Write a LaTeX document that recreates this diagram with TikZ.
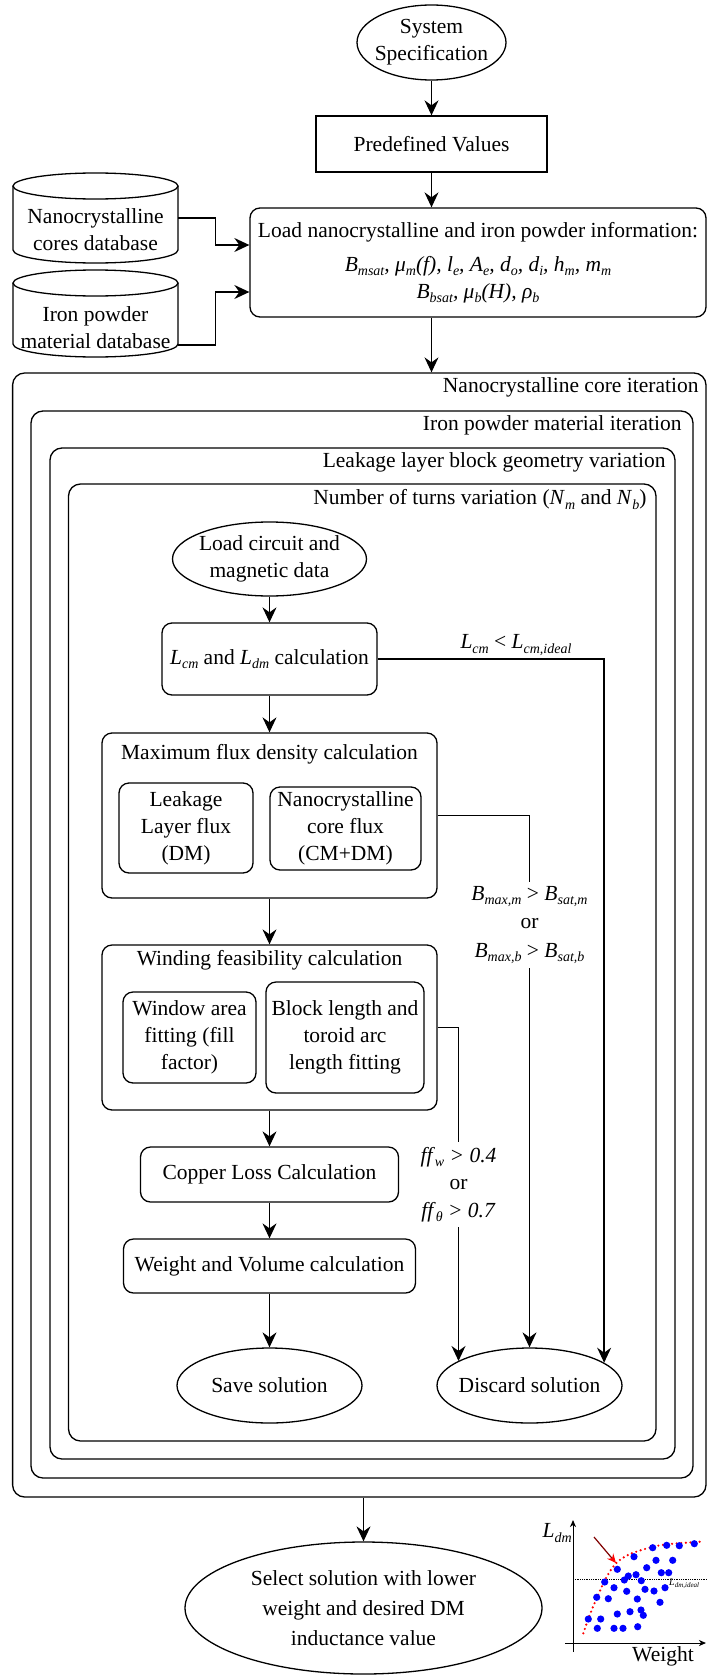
\documentclass[tikz,border=0pt]{standalone}
\usepackage{fontspec}
\setmainfont{Liberation Serif}
\usetikzlibrary{shapes.geometric,arrows.meta,calc}
\definecolor{darkred}{RGB}{128,0,0}
\newcommand\subit[1]{\raisebox{-0.22em}{\fontsize{14}{14}\selectfont\itshape #1}}
\newcommand\tinysub[1]{\raisebox{-0.2em}{\fontsize{7}{7}\selectfont\itshape #1}}
\newcommand\fs{\fontsize{21.5}{27}\selectfont}
\begin{document}
\begin{tikzpicture}[x=1pt,y=-1pt,font=\fs,
  base/.style={draw, line width=1.3pt, align=center, inner sep=0pt},
  rbox/.style={base, rectangle, rounded corners=10pt},
  pbox/.style={base, rectangle},
  ell/.style={base, ellipse},
  frame/.style={draw, line width=1.3pt, rectangle, rounded corners=12pt, inner sep=0pt},
  lbl/.style={inner sep=0pt, align=center},
  conn/.style={line width=1.3pt},
  arr/.style={line width=1.3pt, -{Stealth[length=15pt,width=14pt,inset=5pt]}},
  axis/.style={line width=1pt, -{Stealth[length=7pt,width=6pt,inset=2pt]}},
  cyl/.style={line width=1.3pt}
]
\useasboundingbox (0,0) rectangle (707,1675);

% ---- top part
\node[ell, minimum width=149pt, minimum height=75pt] (sys) at (431.5,42.5) {};
\node[lbl] (syst) at (sys) {System\\Specification};
\node[pbox, minimum width=231pt, minimum height=56pt] (pre) at (431.5,144) {Predefined Values};
\node[rbox, minimum width=456pt, minimum height=109pt] (load) at (478,262.5)
  {Load nanocrystalline and iron powder information:\\[7pt]
   \itshape B\subit{msat}, μ\subit{m}(f), l\subit{e}, A\subit{e}, d\subit{o}, d\subit{i}, h\subit{m}, m\subit{m}\\
   \itshape B\subit{bsat}, μ\subit{b}(H), ρ\subit{b}};

% ---- databases (cylinders)
\node[lbl, minimum width=165pt, minimum height=90pt] (db1) at (95.5,218) {};
\draw[cyl] (95.5,186) ellipse[x radius=82.5pt, y radius=13pt];
\draw[cyl] (13,186) -- (13,250) arc[start angle=180, end angle=360, x radius=82.5pt, y radius=13pt] -- (178,186);
\node[lbl] (db1t) at (95.5,230) {Nanocrystalline\\cores database};

\node[lbl, minimum width=165pt, minimum height=87pt] (db2) at (95.5,313.5) {};
\draw[cyl] (95.5,283) ellipse[x radius=82.5pt, y radius=13pt];
\draw[cyl] (13,283) -- (13,344) arc[start angle=180, end angle=360, x radius=82.5pt, y radius=13pt] -- (178,283);
\node[lbl] (db2t) at (95.5,328) {Iron powder\\material database};

% ---- nested iteration frames
\node[frame, minimum width=693.4pt, minimum height=1124pt] (b1) at (359.3,935) {};
\node[frame, minimum width=662pt, minimum height=1067pt] (b2) at (362,944.5) {};
\node[frame, minimum width=625pt, minimum height=1011pt] (b3) at (362.5,953.5) {};
\node[frame, minimum width=587.5pt, minimum height=957pt] (b4) at (362.25,962.5) {};
\node[lbl, anchor=east] (b1l) at ([xshift=-8pt,yshift=-15pt]b1.north east) {Nanocrystalline core iteration};
\node[lbl, anchor=east] (b2l) at ([xshift=-12pt,yshift=-15pt]b2.north east) {Iron powder material iteration};
\node[lbl, anchor=east] (b3l) at ([xshift=-10pt,yshift=-15pt]b3.north east) {Leakage layer block geometry variation};
\node[lbl, anchor=east] (b4l) at ([xshift=-10pt,yshift=-16pt]b4.north east) {Number of turns variation (\textit{N}\subit{m} and \textit{N}\subit{b})};

% ---- inner flow
\node[ell, minimum width=194pt, minimum height=74pt] (lc) at (269.5,559) {};
\node[lbl] (lct) at (lc) {Load circuit and\\magnetic data};
\node[rbox, minimum width=215pt, minimum height=72pt] (lcm) at (269.5,659) {\textit{L}\subit{cm} and \textit{L}\subit{dm} calculation};

\node[rbox, minimum width=335pt, minimum height=165pt] (mf) at (269.5,815.5) {};
\node[lbl] (mft) at (269.5,754) {Maximum flux density calculation};
\node[rbox, minimum width=134pt, minimum height=90pt] (ll) at (186,828) {Leakage\\Layer flux\\(DM)};
\node[rbox, minimum width=151pt, minimum height=83pt] (nc) at (345.5,828.5) {Nanocrystalline\\core flux\\(CM+DM)};

\node[rbox, minimum width=335pt, minimum height=165pt] (wf) at (269.5,1027.5) {};
\node[lbl] (wft) at (269.5,960) {Winding feasibility calculation};
\node[rbox, minimum width=133pt, minimum height=91pt] (wa) at (189.5,1037.5) {Window area\\fitting (fill\\factor)};
\node[rbox, minimum width=158pt, minimum height=111pt] (bl) at (345,1037.5) {Block length and\\toroid arc\\length fitting};

\node[rbox, minimum width=258pt, minimum height=55pt] (cl) at (269.5,1174.5) {Copper Loss Calculation};
\node[rbox, minimum width=292pt, minimum height=54pt] (wv) at (269.5,1266) {Weight and Volume calculation};

\node[ell, minimum width=185pt, minimum height=75pt] (save) at (269.5,1385.5) {};
\node[lbl] (savet) at (save) {Save solution};
\node[ell, minimum width=185pt, minimum height=75pt] (disc) at (529.5,1385.5) {};
\node[lbl] (disct) at (disc) {Discard solution};

\node[ell, minimum width=357pt, minimum height=132pt] (sel) at (363.5,1608) {};
\node[lbl, font=\fontsize{21.5}{30}\selectfont] (selt) at (sel) {Select solution with lower\\weight and desired DM\\inductance value};

% ---- condition labels
\node[lbl] (lcml) at (516,645) {\textit{L}\subit{cm} < \textit{L}\subit{cm,ideal}};
\node[lbl, minimum height=86pt, fill=white, font=\fontsize{21.5}{28.5}\selectfont] (bml) at (529.5,925)
  {\textit{B}\subit{max,m} > \textit{B}\subit{sat,m}\\or\\\textit{B}\subit{max,b} > \textit{B}\subit{sat,b}};
\node[lbl, minimum height=85pt, fill=white, font=\fontsize{21.5}{27.5}\selectfont] (ffl) at (458.5,1184.5)
  {\textit{ff}\subit{w} \textit{> 0.4}\\or\\\textit{ff}\subit{θ} \textit{> 0.7}};

% ---- connectors
\draw[arr] (sys) -- (pre);
\draw[arr] (pre) -- (pre |- load.north);
\draw[arr] (pre |- load.south) -- (pre |- b1.north);
\draw[arr] (db1.east) -- ++(37,0) |- ([yshift=17.5pt]load.west);
\draw[arr] ([yshift=-31.5pt]db2.east) -- ++(37,0) |- ([yshift=-29.5pt]load.west);
\draw[arr] (lc) -- (lcm);
\draw[arr] (lcm) -- (mf);
\draw[arr] (mf) -- (wf);
\draw[arr] (wf) -- (cl);
\draw[arr] (cl) -- (wv);
\draw[arr] (wv) -- (save);
\draw[arr] (lcm.east) -| (disc.17);
\draw[conn] (mf.east) -| (bml.north);
\draw[arr] (bml.south) -- (bml.south |- disc.north);
\draw[conn] (wf.east) -| (ffl.north);
\draw[arr] (ffl.south) -- (ffl.south |- disc.161);
\draw[arr] (sel |- b1.south) -- (sel);

% ---- small chart
\draw[axis] (573,1652) -- (573,1520);
\draw[axis] (565,1643) -- (706,1643);
\node[lbl, anchor=east] (ldm) at (572,1533) {\textit{L}\subit{dm}};
\node[lbl] (wt) at (663,1656) {Weight};
\draw[densely dotted, line width=0.8pt] (573,1579) -- (707,1579);
\node[lbl, anchor=west] (ldmi) at (669,1584) {\fontsize{10}{10}\selectfont\itshape L\tinysub{dm,ideal}};
\draw[red, line width=2.4pt, dash pattern=on 0pt off 4.6pt, line cap=round]
  plot[smooth] coordinates {(583.3,1633.3) (591.7,1610) (605,1580) (616,1563.3) (630,1554) (653.3,1546.7) (670,1544) (700,1541.7)};
\foreach \p in {(588.3,1619),(600.7,1619),(597.3,1628.3),(614,1628.3),(623,1628.3),(637.7,1626.7),
  (596.7,1597.3),(608.3,1598.7),(617.3,1614),(630,1611.7),(641,1610),(643.3,1615.3),
  (604.7,1582),(614,1587.7),(626.7,1591.3),(637.3,1599),
  (617.3,1569.3),(628.3,1576),(636,1574.7),(624.3,1580),(641.3,1580.7),(645,1589.3),(654,1591),(665,1587.7),(660,1602.3),
  (634,1556.7),(646.7,1567.7),(656,1560.3),(672.7,1560.3),(661.3,1572.7),(668.7,1572.7),
  (652.7,1547.7),(666.7,1545.3),(679.3,1545.7),(694.3,1543.7)}
  \fill[blue] \p circle[radius=3.6pt];
\draw[darkred, line width=1.2pt, -{Stealth[color=red, fill=red, length=9pt, width=8pt]}] (594,1537) -- (616,1563);
\end{tikzpicture}
\end{document}
